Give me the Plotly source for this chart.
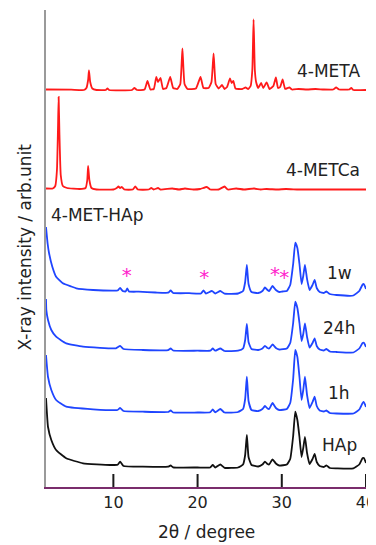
import plotly.graph_objects as go

# ---------------- data (2θ in degree, intensity in arbitrary units) ----------------
meta_x = [2.0, 5.0, 6.5, 6.8, 7.0, 7.1, 7.25, 7.5, 8.0, 9.1, 9.3, 9.5, 12.2, 12.5, 12.8, 13.7, 14.05, 14.4,
          14.8, 15.1, 15.3, 15.6, 15.9, 16.3, 16.75, 17.1, 17.6, 17.95, 18.2, 18.45, 18.8, 19.8, 20.35, 20.7,
          21.3, 21.65, 21.9, 22.15, 22.5, 22.9, 23.2, 23.5, 23.85, 24.05, 24.25, 24.5, 25.3, 25.7, 26.0, 26.3,
          26.5, 26.65, 26.8, 26.95, 27.2, 27.55, 27.8, 28.2, 28.55, 29.0, 29.3, 29.55, 29.8, 30.1, 30.4, 30.9,
          31.2, 32.0, 33.0, 34.0, 35.0, 36.1, 36.45, 36.8, 38.0, 38.25, 38.5, 40.0]
meta_y = [0.5, 0.3, 0.0, 2.0, 10.0, 19.5, 8.0, 1.5, 0.0, 0.0, 1.5, 0.0, 0.0, 2.0, 0.0, 0.5, 9.0, 0.5,
          1.0, 13.0, 8.0, 12.0, 1.0, 2.0, 13.0, 2.0, 1.0, 6.0, 41.5, 6.0, 1.0, 1.5, 13.0, 2.0,
          2.0, 8.0, 36.5, 6.0, 1.5, 5.0, 1.0, 3.0, 11.5, 7.0, 9.0, 1.5, 1.0, 2.5, 1.0, 4.0,
          20.0, 70.5, 20.0, 8.0, 2.0, 7.0, 2.0, 7.5, 1.0, 4.0, 12.5, 2.0, 3.0, 10.5, 1.0, 2.5,
          0.5, 1.0, 0.5, 1.0, 0.5, 0.5, 2.5, 0.5, 0.5, 2.0, 0.0, 0.0]

metca_x = [2.0, 2.8, 3.1, 3.3, 3.42, 3.5, 3.6, 3.75, 4.0, 4.5, 6.0, 6.7, 6.9, 7.0, 7.15, 7.4, 8.0, 10.0,
           10.4, 10.6, 10.8, 11.0, 11.3, 12.3, 12.6, 12.9, 14.2, 14.5, 14.8, 15.3, 15.6, 17.0, 17.8, 18.5,
           19.5, 20.3, 21.1, 21.5, 22.5, 23.2, 23.6, 24.6, 25.5, 26.7, 27.5, 28.2, 29.5, 30.5, 32.0, 34.0,
           36.0, 38.0, 40.0]
metca_y = [1.5, 1.5, 4.0, 20.0, 60.0, 93.0, 55.0, 15.0, 4.0, 2.0, 1.0, 2.0, 10.0, 24.0, 10.0, 2.0, 0.5, 0.5,
           2.0, 3.5, 2.0, 3.0, 0.5, 0.5, 3.5, 0.5, 0.5, 2.0, 0.5, 2.0, 0.5, 1.5, 0.5, 1.5,
           0.5, 1.0, 3.0, 0.5, 0.5, 3.5, 0.5, 1.5, 0.5, 1.5, 0.5, 1.0, 0.5, 1.0, 0.5, 0.5,
           0.5, 0.5, 0.5]

w1_x = [2.0, 2.2, 2.36, 2.75, 3.2, 4.0, 5.0, 5.6, 7.6, 10.0, 10.5, 10.8, 11.1, 11.45, 11.65, 11.85, 13.0,
        15.0, 16.5, 16.8, 17.1, 19.0, 20.4, 20.7, 21.0, 21.7, 22.1, 22.7, 23.2, 24.8, 25.4, 25.65, 25.85,
        26.05, 26.4, 27.2, 27.7, 28.0, 28.3, 28.5, 28.9, 29.3, 29.7, 30.1, 30.6, 31.0, 31.35, 31.6, 31.85,
        32.1, 32.35, 32.55, 32.75, 33.0, 33.3, 33.65, 33.9, 34.15, 34.5, 35.0, 35.3, 35.7, 36.5, 38.5, 39.2,
        39.6, 39.75, 40.0]
w1_y = [67.0, 50.0, 41.0, 27.3, 17.3, 10.7, 7.5, 5.7, 4.0, 3.3, 3.5, 6.0, 3.0, 2.5, 5.5, 2.5, 2.3,
        1.5, 1.3, 3.5, 1.0, 0.8, 0.5, 3.5, 0.5, 3.0, 0.5, 3.0, 0.3, 0.5, 3.0, 12.0, 29.0,
        10.0, 2.0, 1.0, 3.0, 6.5, 4.0, 3.0, 8.0, 4.0, 2.0, 2.5, 3.0, 9.0, 30.0, 51.3, 46.0,
        30.0, 10.0, 18.0, 29.0, 15.0, 4.0, 9.0, 14.0, 6.0, 2.0, 1.0, 2.5, 0.0, -1.0, -1.5, 3.0,
        9.5, 10.0, 5.0]

h24_x = [2.0, 2.04, 2.24, 2.63, 3.2, 4.4, 6.4, 10.3, 10.8, 11.2, 13.5, 16.5, 16.8, 17.1, 20.0, 21.5, 21.8,
         22.1, 22.7, 23.2, 24.8, 25.4, 25.65, 25.85, 26.05, 26.4, 27.2, 27.7, 28.0, 28.3, 28.5, 28.9, 29.3,
         29.7, 30.6, 31.0, 31.35, 31.6, 31.85, 32.1, 32.35, 32.55, 32.75, 33.0, 33.3, 33.65, 33.9, 34.15,
         34.5, 35.0, 35.3, 35.7, 36.5, 38.5, 39.2, 39.6, 39.75, 40.0]
h24_y = [52.0, 41.0, 31.0, 21.0, 14.3, 7.7, 4.3, 2.7, 5.0, 2.0, 1.0, 0.8, 2.5, 0.5, 0.3, 0.3, 2.5,
         0.3, 2.5, 0.0, 0.3, 2.5, 11.0, 27.0, 9.0, 2.0, 1.0, 2.5, 5.0, 3.0, 2.5, 6.5, 3.0,
         1.5, 2.5, 8.0, 28.0, 49.3, 43.0, 28.0, 10.0, 17.0, 27.7, 14.0, 3.5, 8.0, 12.7, 5.0,
         1.5, 0.5, 2.0, -0.5, -1.0, -1.5, 2.5, 8.0, 8.3, 4.0]

h1_x = [2.0, 2.24, 2.63, 3.2, 4.4, 7.6, 10.5, 10.8, 11.2, 13.5, 16.5, 16.8, 17.1, 20.0, 21.5, 21.8,
        22.1, 22.7, 23.2, 24.8, 25.4, 25.65, 25.85, 26.05, 26.4, 27.2, 27.7, 28.0, 28.3, 28.5, 28.9, 29.3,
        29.7, 30.6, 31.0, 31.35, 31.6, 31.85, 32.1, 32.35, 32.55, 32.75, 33.0, 33.3, 33.65, 33.9, 34.15,
        34.5, 35.0, 35.3, 35.7, 36.5, 38.5, 39.2, 39.6, 39.75, 40.0]
h1_y = [57.0, 35.0, 22.0, 12.0, 5.3, 2.7, 2.0, 4.0, 1.0, 0.3, 0.0, 1.5, -0.5, -0.5, -0.3, 2.5,
        -0.3, 3.0, -0.5, 0.0, 3.0, 13.0, 35.3, 11.0, 2.0, 1.0, 3.0, 6.0, 3.5, 3.0, 9.0, 4.0,
        2.0, 3.0, 9.0, 33.0, 62.0, 55.0, 35.0, 12.0, 22.0, 35.3, 17.0, 4.0, 10.0, 15.3, 6.0,
        1.5, 0.5, 1.5, -1.0, -1.5, -1.5, 2.5, 9.0, 10.0, 5.0]

hap_x = [2.0, 2.24, 2.63, 3.2, 4.4, 6.4, 9.6, 10.5, 10.8, 11.2, 13.5, 16.5, 16.8, 17.1, 20.0, 21.5, 21.8,
         22.1, 22.7, 23.2, 24.8, 25.4, 25.65, 25.85, 26.05, 26.4, 27.2, 27.7, 28.0, 28.3, 28.5, 28.9, 29.3,
         29.7, 30.6, 31.0, 31.35, 31.6, 31.85, 32.1, 32.35, 32.55, 32.75, 33.0, 33.3, 33.65, 33.9, 34.15,
         34.5, 35.0, 35.3, 35.7, 36.5, 38.5, 39.2, 39.6, 39.75, 40.0]
hap_y = [69.0, 40.0, 27.0, 17.0, 8.7, 3.7, 2.0, 2.3, 5.3, 1.0, 0.3, 0.3, 1.5, -0.3, -0.5, -0.5, 2.0,
         -0.5, 2.5, -0.8, -0.5, 2.5, 12.0, 32.0, 10.0, 2.0, 0.5, 2.5, 5.3, 3.0, 2.5, 7.7, 3.5,
         1.5, 2.5, 8.0, 31.0, 55.3, 47.0, 30.0, 10.0, 19.0, 30.0, 14.0, 3.0, 8.0, 13.0, 5.0,
         1.0, 0.0, 1.5, -1.0, -1.3, -1.3, 2.5, 9.0, 9.0, 4.0]

series_names = ["4-META", "4-METCa", "1w", "24h", "1h", "HAp"]
series_x = [meta_x, metca_x, w1_x, h24_x, h1_x, hap_x]
series_y = [meta_y, metca_y, w1_y, h24_y, h1_y, hap_y]
offsets = [397, 297, 193, 136, 75, 20]   # vertical stacking offsets

star_x = [11.6, 20.8, 29.2, 30.3]        # peaks marked with * on the 1w pattern
star_y = [210, 208, 211, 208]

x_ticks = [10, 20, 30, 40]

# ---------------- styling ----------------
colors = ["#ff1a1a", "#ff1a1a", "#1f45ff", "#1f45ff", "#1f45ff", "#111111"]
FONT = "DejaVu Sans"
TICK_LEN = 13   # in y-axis units (1 unit = 1 px here)

fig = go.Figure()
for name, xs, ys, off, c in zip(series_names, series_x, series_y, offsets, colors):
    fig.add_trace(go.Scatter(x=xs, y=[v + off for v in ys], mode="lines", name=name,
                             line=dict(color=c, width=1.8, shape="spline", smoothing=0.4),
                             hoverinfo="skip", showlegend=False))

# inside tick marks on the 2θ axis, drawn from the tick values
tick_xs, tick_ys = [], []
for t in x_ticks:
    tick_xs += [t, t, None]
    tick_ys += [0, TICK_LEN, None]
fig.add_trace(go.Scatter(x=tick_xs, y=tick_ys, mode="lines", line=dict(color="#1a1a1a", width=2),
                         hoverinfo="skip", showlegend=False, cliponaxis=False))

fig.add_trace(go.Scatter(x=star_x, y=star_y, mode="text", text=["*"] * len(star_x),
                         textfont=dict(family=FONT, size=20, color="#ff22cc"),
                         textposition="middle center", showlegend=False, hoverinfo="skip"))

label_font = dict(family=FONT, size=17, color="#222222")
annots = [
    dict(x=39.5, y=416, text="4-META", xanchor="right"),
    dict(x=39.5, y=317, text="4-METCa", xanchor="right"),
    dict(x=2.35, y=272, text="4-MET-HAp", xanchor="left"),
    dict(x=36.8, y=214, text="1w", xanchor="center"),
    dict(x=36.8, y=159, text="24h", xanchor="center"),
    dict(x=36.8, y=94, text="1h", xanchor="center"),
    dict(x=36.8, y=42, text="HAp", xanchor="center"),
]
for a in annots:
    fig.add_annotation(x=a["x"], y=a["y"], text=a["text"], xanchor=a["xanchor"], yanchor="middle",
                       showarrow=False, font=label_font, xref="x", yref="y")

fig.add_annotation(x=0, y=0.502, xref="paper", yref="paper", xanchor="center", yanchor="middle",
                   xshift=-21, text="X-ray intensity / arb.unit", textangle=-90, showarrow=False,
                   font=dict(family=FONT, size=17, color="#222222"))
fig.add_annotation(x=0.5, y=0, xref="paper", yref="paper", xanchor="center", yanchor="middle",
                   yshift=-45, text="2θ / degree", showarrow=False,
                   font=dict(family=FONT, size=17, color="#222222"))

fig.update_xaxes(range=[2, 40], tickvals=x_ticks, ticks="", showline=True, linecolor="#7a2d6c",
                 linewidth=1.5, showgrid=False, zeroline=False, ticklabeloverflow="allow",
                 automargin=False, tickfont=dict(family=FONT, size=16, color="#222222"))
fig.update_yaxes(range=[0, 477], showticklabels=False, ticks="", showline=True, linecolor="#9a9a9a",
                 linewidth=2, showgrid=False, zeroline=False, automargin=False)

# page body has an 8px margin: figure is sized/offset so the plot lands where the reference has it
fig.update_layout(width=368, height=537, margin=dict(l=38, r=10, t=2, b=58),
                  plot_bgcolor="white", paper_bgcolor="white", showlegend=False)

fig.write_html("out.html")
